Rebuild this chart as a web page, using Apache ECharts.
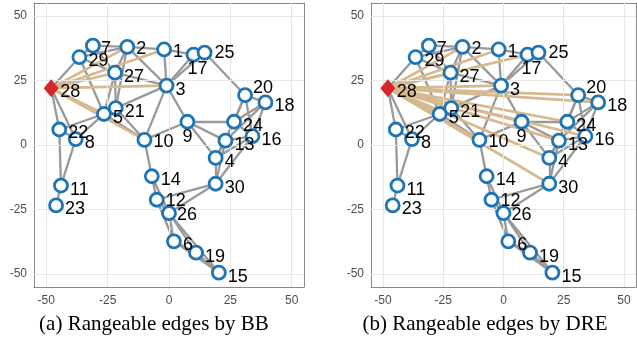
<!DOCTYPE html>
<html><head><meta charset="utf-8">
<script src="https://cdn.jsdelivr.net/npm/echarts@6/dist/echarts.min.js"></script>
<style>html,body{margin:0;padding:0;background:#fff}#c{width:637px;height:345px}</style>
</head><body><div id="c"></div>
<script>
// ---- data ----
const nodeIds = [1,2,3,4,5,6,7,8,9,10,11,12,13,14,15,16,17,18,19,20,21,22,23,24,25,26,27,28,29,30];
const nodeX = [-2,-17,-1,19,-26.5,2,-31,-38,7.5,-10,-44,-5,23,-7,20.3,34,10,39.3,11,31,-21.7,-44.7,-46,26.5,14.5,0,-22,-48,-36.5,19];
const nodeY = [37,38,23,-5,12,-37.3,38.5,2.3,9,2,-15.7,-21.2,1.7,-12.1,-49.4,3.4,35,16.5,-41.7,19.3,14.3,6,-23.4,9,35.8,-26.4,28,22,34,-15];
const edges = [
  [28,29],[28,22],[28,8],[7,29],[7,2],[7,27],[29,2],[29,27],[29,5],[2,1],[2,27],[2,3],[2,21],
  [27,21],[27,5],[27,3],[21,5],[21,3],[21,10],[5,10],[5,22],[5,8],[22,8],[22,11],[8,11],[11,23],
  [1,17],[1,3],[3,17],[3,25],[17,25],[3,9],[3,10],[25,20],
  [20,18],[20,24],[20,13],[20,16],[18,24],[18,16],[18,13],[24,16],[24,13],[13,16],[9,24],[9,13],[9,4],[9,10],
  [13,4],[4,30],[13,30],[16,30],[16,4],[24,4],
  [10,14],[14,12],[14,26],[12,26],[12,30],[26,30],[12,6],[26,6],[26,19],[6,19],[19,15],[6,15],[26,15]
];
const anchorId = 28;
const rangeBB = [2,1,27,3,5,10];
const rangeDRE = [2,1,17,27,3,20,18,21,5,9,24,13,16,10,4,30];
const tickValues = [-50,-25,0,25,50];
const captions = ['(a) Rangeable edges by BB','(b) Rangeable edges by DRE'];

// ---- layout / style ----
const grids = [
  {left:34, top:3, width:270, height:284},
  {left:371, top:3, width:265, height:284}
];
const captionX = [154, 485];
const labelOffsets = {17:[-6,14], 9:[-5,15], 20:[8,-7], 25:[10,0], 1:[9,3], 2:[9,2], 7:[8,3], 12:[9,1], 26:[8,2], 10:[9,2]};
const axisCol = '#8a8a8a';
const labelStyle = {color:'#4d4d4d', fontSize:12, fontFamily:'Liberation Sans'};

const chart = echarts.init(document.getElementById('c'), null, {renderer:'canvas'});
const xAxes = [], yAxes = [], series = [];
function pt(id){ return [nodeX[id-1], nodeY[id-1]]; }
function nodeLabel(id){
  const o = labelOffsets[id] || [9,4];
  return {show:true, formatter:String(id), position:'inside', align:'left', verticalAlign:'middle',
    offset:o, color:'#000', fontSize:18, fontFamily:'Liberation Sans'};
}
[rangeBB, rangeDRE].forEach((ranged, p) => {
  const common = {type:'value', min:-55, max:55, gridIndex:p,
    axisLine:{show:true, onZero:false, lineStyle:{color:axisCol, width:1}},
    axisTick:{show:true, inside:true, length:4, customValues:tickValues, lineStyle:{color:axisCol}},
    splitLine:{show:false}};
  xAxes.push(Object.assign({}, common, {position:'bottom',
    axisLabel:{show:true, customValues:tickValues, margin:8, ...labelStyle}}));
  xAxes.push(Object.assign({}, common, {position:'top', axisLabel:{show:false}}));
  yAxes.push(Object.assign({}, common, {position:'left',
    axisLabel:{show:true, customValues:tickValues, margin:7, ...labelStyle}}));
  yAxes.push(Object.assign({}, common, {position:'right', axisLabel:{show:false}}));
  const xi = 2*p, yi = 2*p;
  // grid lines
  series.push({type:'scatter', xAxisIndex:xi, yAxisIndex:yi, data:[], silent:true, z:0,
    markLine:{silent:true, symbol:['none','none'], label:{show:false},
      lineStyle:{color:'#e8e8e8', width:1, type:'solid'}, animation:false,
      data: tickValues.map(v=>({xAxis:v})).concat(tickValues.map(v=>({yAxis:v})))}});
  series.push({type:'lines', coordinateSystem:'cartesian2d', xAxisIndex:xi, yAxisIndex:yi, silent:true, z:2,
    lineStyle:{color:'#999999', width:2.3, opacity:1},
    data: edges.map(([a,b]) => ({coords:[pt(a), pt(b)]}))});
  series.push({type:'lines', coordinateSystem:'cartesian2d', xAxisIndex:xi, yAxisIndex:yi, silent:true, z:3,
    lineStyle:{color:'#d6b98e', width:2.7, opacity:1},
    data: ranged.map(b => ({coords:[pt(anchorId), pt(b)]}))});
  series.push({type:'scatter', xAxisIndex:xi, yAxisIndex:yi, silent:true, z:5,
    symbol:'circle', symbolSize:13,
    itemStyle:{color:'#ffffff', borderColor:'#1f74b4', borderWidth:2.8, opacity:1},
    data: nodeIds.filter(id=>id!==anchorId).map(id => ({value:pt(id), label:nodeLabel(id)}))});
  series.push({type:'scatter', xAxisIndex:xi, yAxisIndex:yi, silent:true, z:6,
    symbol:'diamond', symbolSize:[15,18],
    itemStyle:{color:'#d7262b', opacity:1},
    data: [{value:pt(anchorId), label:nodeLabel(anchorId)}]});
});

chart.setOption({
  animation:false,
  backgroundColor:'#fff',
  grid: grids,
  xAxis: xAxes,
  yAxis: yAxes,
  series: series,
  graphic: captions.map((t,i)=>({type:'text', x:captionX[i], y:324,
    style:{text:t, font:'21px "Liberation Serif"', fill:'#000', align:'center', verticalAlign:'middle'}}))
});
</script></body></html>
